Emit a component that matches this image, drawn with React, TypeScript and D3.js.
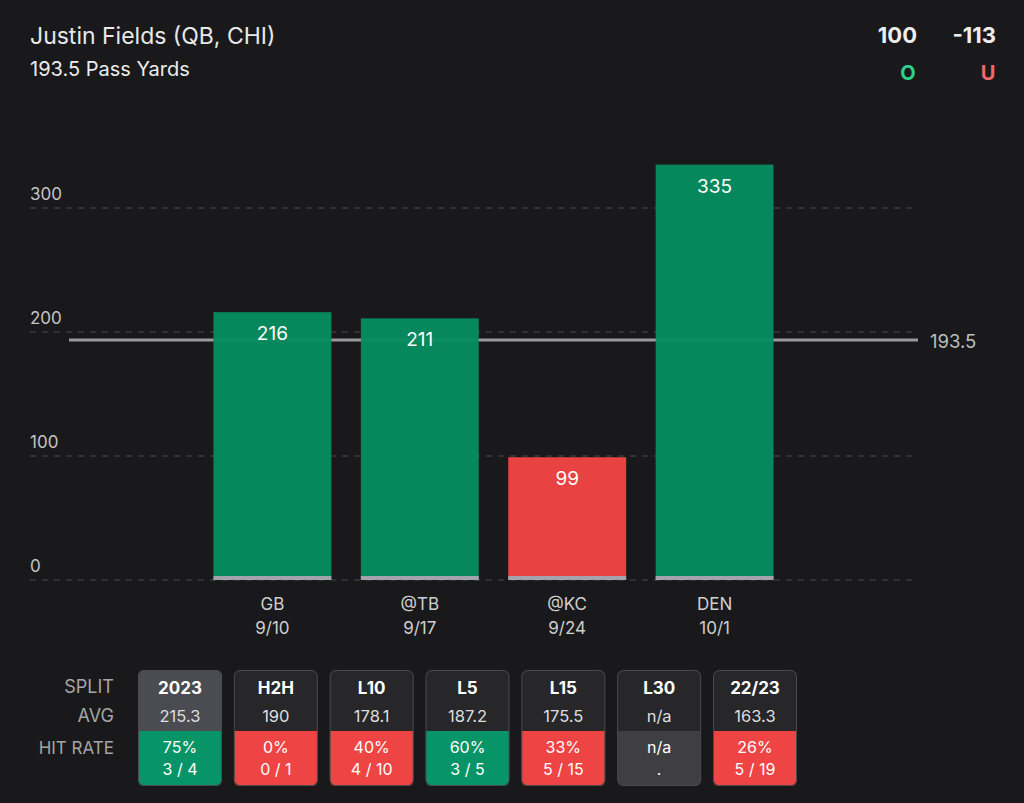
import React from "react";
import * as d3 from "d3";

const games = ["GB", "@TB", "@KC", "DEN"];
const dates = ["9/10", "9/17", "9/24", "10/1"];
const yards = [216, 211, 99, 335];
const line = 193.5;
const yTicks = [0, 100, 200, 300];

const splits = ["2023", "H2H", "L10", "L5", "L15", "L30", "22/23"];
const avgs = ["215.3", "190", "178.1", "187.2", "175.5", "n/a", "163.3"];
const hitPct = ["75%", "0%", "40%", "60%", "33%", "n/a", "26%"];
const hitCount = ["3 / 4", "0 / 1", "4 / 10", "3 / 5", "5 / 15", ".", "5 / 19"];
const hitKind = ["over", "under", "under", "over", "under", "none", "under"];

const W = 1024, H = 803;
const FONT = "Inter, 'Noto Sans', sans-serif";
const GREEN = "#068b5f";
const GREEN_T = "#079467";
const RED = "#ef4444";

export default function App() {
  const y = d3.scaleLinear().domain([0, 300]).range([580, 208]);
  const x = d3.scaleBand().domain(games).range([69, 918]).paddingInner(0.2).paddingOuter(0.98);
  const cx = d3.scaleBand().domain(splits).range([138, 797]).paddingInner(0.1235).paddingOuter(0);
  const cw = cx.bandwidth();
  return (
    <div style={{ position: "absolute", left: 0, top: 0, width: W, height: H, background: "#19191b", overflow: "hidden" }}>
      <svg width={W} height={H} style={{ display: "block", fontFamily: FONT }}>
        <rect width={W} height={H} fill="#19191b" />
        <text x={30} y={44} fill="#e8e8e8" fontSize={23}>Justin Fields (QB, CHI)</text>
        <text x={30} y={76} fill="#ececec" fontSize={20}>193.5 Pass Yards</text>
        <text x={917} y={43} fill="#eeeeee" fontSize={22} fontWeight={700} textAnchor="end">100</text>
        <text x={996} y={43} fill="#eeeeee" fontSize={22} fontWeight={700} textAnchor="end">-113</text>
        <text x={908} y={80} fill="#2fcf8c" fontSize={20} fontWeight={700} textAnchor="middle">O</text>
        <text x={988} y={80} fill="#f06868" fontSize={20} fontWeight={700} textAnchor="middle">U</text>

        {yTicks.map(t => (
          <g key={t}>
            <line x1={30} x2={918} y1={y(t)} y2={y(t)} stroke="#4a4a4e" strokeDasharray="6,6" strokeWidth={1} />
            <text x={30} y={y(t) - 8} fill="#c4c4c4" fontSize={17}>{t}</text>
          </g>
        ))}
        <line x1={69} x2={918} y1={y(line)} y2={y(line)} stroke="#9a9a9e" strokeWidth={3} />
        <text x={930} y={y(line) + 8} fill="#bdbdbd" fontSize={18.5}>193.5</text>

        {games.map((g, i) => {
          const bx = x(g)!;
          const bw = x.bandwidth();
          const fill = yards[i] >= line ? GREEN : RED;
          return (
            <g key={g}>
              <rect x={bx} y={y(yards[i])} width={bw} height={y(0) - y(yards[i])} fill={fill} opacity={0.97} />
              <rect x={bx} y={y(0) - 4} width={bw} height={4} fill="#a3a3ab" />
              <text x={bx + bw / 2} y={y(yards[i]) + 28} fill="#ffffff" fontSize={19} textAnchor="middle">{yards[i]}</text>
              <text x={bx + bw / 2} y={610} fill="#cfcfcf" fontSize={17} textAnchor="middle">{g}</text>
              <text x={bx + bw / 2} y={634} fill="#cfcfcf" fontSize={17} textAnchor="middle">{dates[i]}</text>
            </g>
          );
        })}

        <text x={114} y={693} fill="#a6a6a6" fontSize={18} textAnchor="end">SPLIT</text>
        <text x={114} y={722} fill="#a6a6a6" fontSize={18} textAnchor="end">AVG</text>
        <text x={114} y={754} fill="#a6a6a6" fontSize={17} textAnchor="end">HIT RATE</text>

        {splits.map((s, i) => {
          const bx = cx(s)!;
          const top = 670, mid = 731, bot = 786;
          const head = i === 0 ? "#4b4b52" : "#27272a";
          const hit = hitKind[i] === "over" ? GREEN_T : hitKind[i] === "under" ? RED : "#3e3e43";
          const clipId = `clip${i}`;
          return (
            <g key={s}>
              <defs>
                <clipPath id={clipId}>
                  <rect x={bx} y={top} width={cw} height={bot - top} rx={6} />
                </clipPath>
              </defs>
              <g clipPath={`url(#${clipId})`}>
                <rect x={bx} y={top} width={cw} height={mid - top} fill={head} />
                <rect x={bx} y={mid} width={cw} height={bot - mid} fill={hit} />
              </g>
              <rect x={bx + 0.5} y={top + 0.5} width={cw - 1} height={bot - top - 1} rx={6} fill="none" stroke="#4a4a4f" strokeWidth={1} />
              <text x={bx + cw / 2} y={694} fill="#ffffff" fontSize={17} fontWeight={700} textAnchor="middle">{s}</text>
              <text x={bx + cw / 2} y={722} fill="#dedede" fontSize={16.5} textAnchor="middle">{avgs[i]}</text>
              <text x={bx + cw / 2} y={753} fill="#ffffff" fontSize={16} textAnchor="middle">{hitPct[i]}</text>
              <text x={bx + cw / 2} y={775} fill="#ffffff" fontSize={16} textAnchor="middle">{hitCount[i]}</text>
            </g>
          );
        })}
      </svg>
    </div>
  );
}
